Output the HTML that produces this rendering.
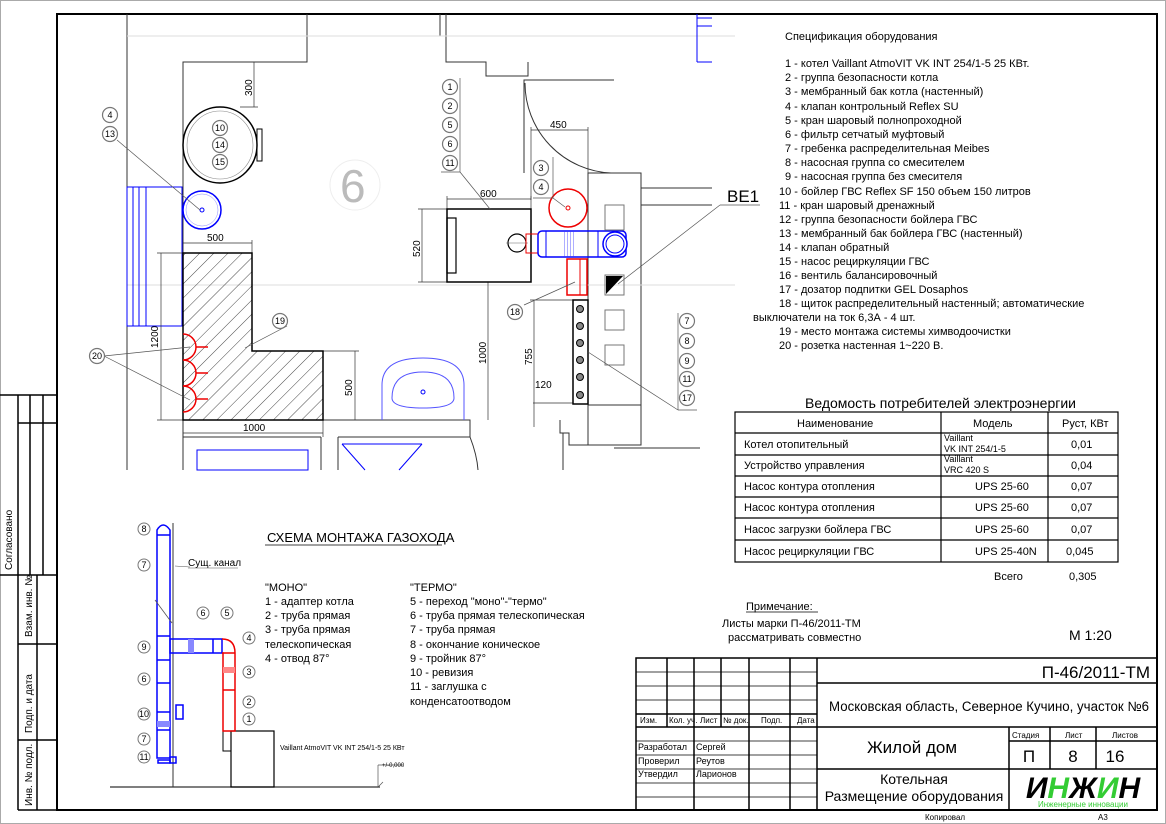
<!DOCTYPE html>
<html><head><meta charset="utf-8"><style>
html,body{margin:0;padding:0;background:#fff}
svg{display:block;font-family:"Liberation Sans",sans-serif}
</style></head><body>
<svg width="1166" height="824" viewBox="0 0 1166 824" xmlns="http://www.w3.org/2000/svg">
<defs>
<pattern id="h" width="10" height="10" patternUnits="userSpaceOnUse" patternTransform="rotate(45)">
<line x1="0" y1="0" x2="0" y2="10" stroke="#333" stroke-width="0.9"/></pattern>
<pattern id="hb" width="3" height="3" patternUnits="userSpaceOnUse"><line x1="0" y1="0" x2="0" y2="3" stroke="#33f" stroke-width="0.8"/></pattern>
</defs>
<rect x="0.5" y="0.5" width="1165" height="823" fill="none" stroke="#aaa"/>
<rect x="57" y="14" width="1100" height="796" fill="none" stroke="#000" stroke-width="2"/>
<g stroke="#000" stroke-width="1.5" fill="none">
<line x1="0" y1="395" x2="57" y2="395"/><line x1="18" y1="395" x2="18" y2="810"/>
<line x1="37" y1="575" x2="37" y2="810"/><line x1="30" y1="395" x2="30" y2="575"/><line x1="43" y1="395" x2="43" y2="575"/>
<line x1="18" y1="423" x2="57" y2="423"/><line x1="0" y1="575" x2="57" y2="575"/>
<line x1="18" y1="644" x2="57" y2="644"/><line x1="18" y1="740" x2="57" y2="740"/><line x1="18" y1="810" x2="57" y2="810"/>
</g>
<g font-size="10" fill="#000">
<text transform="translate(12,570) rotate(-90)">Согласовано</text>
<text transform="translate(32,637) rotate(-90)">Взам. инв. №</text>
<text transform="translate(32,733) rotate(-90)">Подп. и дата</text>
<text transform="translate(32,806) rotate(-90)">Инв. № подл.</text>
</g>

<g stroke="#333" stroke-width="1" fill="none">
<line x1="127" y1="14" x2="127" y2="470"/>
<polyline points="307,14 307,62 183,62 183,253"/>
<line x1="440" y1="14" x2="440" y2="36"/>
<polyline points="446,14 446,62 486,62 486,76 528,76 528,62 528,62"/>
<polyline points="524,173 524,80 614,80"/>
<polyline points="588,445 588,173 641,173 641,445"/>
<line x1="641" y1="188" x2="712" y2="188"/>
<line x1="641" y1="205" x2="712" y2="205"/>
<line x1="588" y1="405" x2="641" y2="405"/>
<polyline points="323,420 470,420 470,437"/>
<line x1="183" y1="420" x2="183" y2="470"/>
<line x1="183" y1="437" x2="321" y2="437"/><line x1="321" y1="437" x2="321" y2="470"/>
<line x1="338" y1="437" x2="470" y2="437"/><line x1="338" y1="437" x2="338" y2="470"/>
<polyline points="560,420 560,433 569,433 569,445 641,445 641,430"/>
<path d="M470,437 Q477,455 478,470"/>
<line x1="563" y1="433" x2="563" y2="470"/><line x1="614" y1="448" x2="700" y2="448"/>
<path d="M525,83 A90,90 0 0 0 611,173"/>
</g>
<g stroke="#ddd" stroke-width="1"><line x1="127" y1="36" x2="735" y2="36"/><line x1="127" y1="285" x2="735" y2="285"/></g>
<g stroke="#00f" fill="none" stroke-width="1">
<rect x="127" y="187" width="55" height="139"/><line x1="133" y1="187" x2="133" y2="326"/><line x1="139" y1="187" x2="139" y2="326"/><line x1="146" y1="187" x2="146" y2="326"/>
<line x1="697" y1="18" x2="712" y2="18"/><line x1="697" y1="26" x2="712" y2="26"/><line x1="697" y1="14" x2="697" y2="62"/><line x1="697" y1="62" x2="712" y2="62"/>
<rect x="197" y="450" width="111" height="20"/>
<line x1="342" y1="444" x2="422" y2="444"/><line x1="342" y1="444" x2="365" y2="470"/><line x1="422" y1="444" x2="399" y2="470"/>
</g>
<ellipse cx="220" cy="145" rx="37" ry="38" fill="none" stroke="#000" stroke-width="1.5"/>
<ellipse cx="220" cy="145" rx="33" ry="34" fill="none" stroke="#888" stroke-width="0.6"/>
<rect x="257" y="129" width="5" height="32" fill="none" stroke="#000"/>
<g stroke="#333" stroke-width="0.7" fill="none">
<line x1="254" y1="62" x2="254" y2="107"/><line x1="240" y1="107" x2="258" y2="107"/>
<line x1="183" y1="243" x2="252" y2="243"/><line x1="252" y1="240" x2="252" y2="253"/>
<line x1="161" y1="253" x2="161" y2="420"/><line x1="157" y1="253" x2="183" y2="253"/><line x1="157" y1="420" x2="183" y2="420"/>
<line x1="355" y1="351" x2="355" y2="420"/><line x1="323" y1="351" x2="359" y2="351"/>
<line x1="183" y1="433" x2="323" y2="433"/><line x1="323" y1="420" x2="323" y2="437"/>
<line x1="447" y1="199" x2="531" y2="199"/><line x1="447" y1="196" x2="447" y2="209"/><line x1="531" y1="196" x2="531" y2="209"/>
<line x1="422" y1="209" x2="422" y2="282"/><line x1="418" y1="209" x2="447" y2="209"/><line x1="418" y1="282" x2="447" y2="282"/>
<line x1="531" y1="130" x2="588" y2="130"/><line x1="531" y1="127" x2="531" y2="200"/><line x1="588" y1="127" x2="588" y2="173"/>
<line x1="488" y1="282" x2="488" y2="420"/>
<line x1="534" y1="300" x2="534" y2="427"/><line x1="530" y1="300" x2="575" y2="300"/><line x1="533" y1="403" x2="575" y2="403"/>
</g>
<g font-size="10" fill="#000">
<text transform="translate(252,96) rotate(-90)">300</text>
<text x="207" y="241">500</text>
<text transform="translate(158,348) rotate(-90)">1200</text>
<text transform="translate(352,396) rotate(-90)">500</text>
<text x="243" y="431">1000</text>
<text x="480" y="197">600</text>
<text transform="translate(420,257) rotate(-90)">520</text>
<text x="550" y="128">450</text>
<text transform="translate(486,364) rotate(-90)">1000</text>
<text transform="translate(532,365) rotate(-90)">755</text>
<text x="535" y="388">120</text>
</g>
<circle cx="355" cy="185" r="25" fill="none" stroke="#eee"/>
<text x="340" y="202" font-size="46" fill="#bbb">6</text>
<polygon points="183,253 252,253 252,351 323,351 323,420 183,420" fill="url(#h)" stroke="#000" stroke-width="1.5"/>
<g stroke="#e00" stroke-width="1.5" fill="none">
<path d="M183,334 A13,13 0 0 1 183,360"/><path d="M183,360 A13,13 0 0 1 183,386"/><path d="M183,386 A13,13 0 0 1 183,412"/>
<line x1="196" y1="347" x2="208" y2="347"/><line x1="196" y1="373" x2="208" y2="373"/><line x1="196" y1="399" x2="208" y2="399"/>
</g>
<circle cx="202" cy="210" r="19" fill="none" stroke="#00f" stroke-width="1.5"/><circle cx="202" cy="210" r="16" fill="none" stroke="#88f" stroke-width="0.5"/><circle cx="202" cy="210" r="2" fill="none" stroke="#00f"/>
<path d="M382,420 L382,385 Q382,358 423,358 Q464,358 464,385 L464,420" fill="none" stroke="#55f"/>
<path d="M392,398 Q392,372 423,372 Q454,372 454,398 Q454,408 423,408 Q392,408 392,398Z" fill="none" stroke="#55f"/>
<circle cx="423" cy="392" r="2" fill="none" stroke="#00f"/>
<rect x="447" y="209" width="84" height="73" fill="none" stroke="#000" stroke-width="1.5"/>
<rect x="447" y="218" width="9" height="55" fill="none" stroke="#000" stroke-width="1.2"/>
<circle cx="517" cy="243" r="9" fill="none" stroke="#000" stroke-width="1.2"/><line x1="506" y1="243" x2="528" y2="243" stroke="#666" stroke-width=".5"/>
<rect x="526" y="234" width="12" height="19" fill="none" stroke="#e00"/>
<circle cx="568" cy="208" r="19" fill="none" stroke="#e00" stroke-width="1.5"/><circle cx="568" cy="208" r="2" fill="none" stroke="#e00"/>
<rect x="538" y="231" width="88" height="26" rx="4" fill="none" stroke="#00f" stroke-width="1.5"/>
<rect x="563" y="231" width="13" height="26" fill="url(#hb)"/>
<line x1="546" y1="231" x2="546" y2="257" stroke="#00f"/><line x1="598" y1="231" x2="598" y2="257" stroke="#00f"/>
<circle cx="615" cy="244" r="12" fill="#fff" stroke="#00f" stroke-width="1.5"/><circle cx="615" cy="244" r="9" fill="none" stroke="#00f"/>
<rect x="567" y="259" width="20" height="36" fill="none" stroke="#e00" stroke-width="1.5"/><line x1="580" y1="259" x2="580" y2="295" stroke="#e00"/>
<g fill="none" stroke="#777"><rect x="605" y="205" width="19" height="25"/><rect x="605" y="275" width="19" height="20"/><rect x="605" y="310" width="19" height="20"/><rect x="605" y="345" width="19" height="20"/></g>
<polygon points="606,294 606,276 623,276" fill="#000"/>
<rect x="573" y="300" width="15" height="104" fill="#fff" stroke="#000" stroke-width="1.5"/>
<g fill="#888" stroke="#000"><circle cx="580" cy="309" r="3.5"/><circle cx="580" cy="326" r="3.5"/><circle cx="580" cy="343" r="3.5"/><circle cx="580" cy="360" r="3.5"/><circle cx="580" cy="377" r="3.5"/><circle cx="580" cy="395" r="3.5"/></g>
<text x="727" y="202" font-size="17" fill="#000">ВЕ1</text>
<g stroke="#555" stroke-width="0.7" fill="none">
<line x1="117" y1="140" x2="200" y2="210"/>
<line x1="460" y1="78" x2="460" y2="172"/><line x1="441" y1="172" x2="460" y2="172"/><line x1="460" y1="172" x2="490" y2="209"/>
<line x1="553" y1="157" x2="553" y2="198"/><line x1="533" y1="198" x2="553" y2="198"/><line x1="553" y1="198" x2="565" y2="207"/>
<line x1="720" y1="205" x2="618" y2="284"/><line x1="720" y1="205" x2="760" y2="205"/>
<line x1="524" y1="305" x2="575" y2="282"/>
<line x1="678" y1="313" x2="678" y2="410"/><line x1="678" y1="410" x2="697" y2="410"/><line x1="678" y1="410" x2="588" y2="352"/>
<line x1="287" y1="326" x2="245" y2="348"/>
<line x1="104" y1="356" x2="190" y2="347"/><line x1="104" y1="356" x2="190" y2="400"/>
</g>
<g font-size="9" text-anchor="middle" fill="#000">
<g fill="#fff" stroke="#777" stroke-width="1.2">
<circle cx="110" cy="115" r="7.5"/><circle cx="110" cy="134" r="7.5"/>
<circle cx="220" cy="128" r="7.5"/><circle cx="220" cy="145" r="7.5"/><circle cx="220" cy="162" r="7.5"/>
<circle cx="450" cy="87" r="7.5"/><circle cx="450" cy="106" r="7.5"/><circle cx="450" cy="125" r="7.5"/><circle cx="450" cy="144" r="7.5"/><circle cx="450" cy="163" r="7.5"/>
<circle cx="541" cy="168" r="7.5"/><circle cx="541" cy="187" r="7.5"/>
<circle cx="515" cy="312" r="7.5"/><circle cx="280" cy="321" r="7.5"/><circle cx="97" cy="356" r="7.5"/>
<circle cx="687" cy="321" r="7.5"/><circle cx="687" cy="341" r="7.5"/><circle cx="687" cy="361" r="7.5"/><circle cx="687" cy="379" r="7.5"/><circle cx="687" cy="398" r="7.5"/>
</g>
<text x="110" y="118">4</text><text x="110" y="137">13</text>
<text x="220" y="131">10</text><text x="220" y="148">14</text><text x="220" y="165">15</text>
<text x="450" y="90">1</text><text x="450" y="109">2</text><text x="450" y="128">5</text><text x="450" y="147">6</text><text x="450" y="166">11</text>
<text x="541" y="171">3</text><text x="541" y="190">4</text>
<text x="515" y="315">18</text><text x="280" y="324">19</text><text x="97" y="359">20</text>
<text x="687" y="324">7</text><text x="687" y="344">8</text><text x="687" y="364">9</text><text x="687" y="382">11</text><text x="687" y="401">17</text>
</g>

<g font-size="11" fill="#000">
<text x="785" y="40">Спецификация оборудования</text>
<text x="785" y="67">1 - котел Vaillant AtmoVIT VK INT 254/1-5  25 КВт.</text>
<text x="785" y="81">2 - группа безопасности котла</text>
<text x="785" y="95">3 - мембранный бак котла (настенный)</text>
<text x="785" y="110">4 - клапан контрольный Reflex SU</text>
<text x="785" y="124">5 - кран шаровый полнопроходной</text>
<text x="785" y="138">6 - фильтр сетчатый муфтовый</text>
<text x="785" y="152">7 - гребенка распределительная Meibes</text>
<text x="785" y="166">8 - насосная группа со смесителем</text>
<text x="785" y="180">9 - насосная группа без смесителя</text>
<text x="779" y="195">10 - бойлер ГВС Reflex SF 150 объем 150 литров</text>
<text x="779" y="209">11 - кран шаровый дренажный</text>
<text x="779" y="223">12 - группа безопасности бойлера ГВС</text>
<text x="779" y="237">13 - мембранный бак бойлера ГВС (настенный)</text>
<text x="779" y="251">14 - клапан обратный</text>
<text x="779" y="265">15 - насос рециркуляции ГВС</text>
<text x="779" y="279">16 - вентиль балансировочный</text>
<text x="779" y="293">17 - дозатор подпитки GEL Dosaphos</text>
<text x="779" y="307">18 - щиток распределительный настенный; автоматические</text>
<text x="753" y="321">выключатели на ток 6,3А - 4 шт.</text>
<text x="779" y="335">19 - место монтажа системы химводоочистки</text>
<text x="779" y="349">20 - розетка настенная 1~220 В.</text>
</g>
<text x="805" y="408" font-size="14">Ведомость потребителей электроэнергии</text>
<g stroke="#000" stroke-width="1.2" fill="none">
<rect x="735" y="412" width="383" height="150"/>
<line x1="941" y1="412" x2="941" y2="562"/><line x1="1048" y1="412" x2="1048" y2="562"/>
<line x1="735" y1="433" x2="1118" y2="433"/><line x1="735" y1="455" x2="1118" y2="455"/><line x1="735" y1="476" x2="1118" y2="476"/>
<line x1="735" y1="497" x2="1118" y2="497"/><line x1="735" y1="518" x2="1118" y2="518"/><line x1="735" y1="540" x2="1118" y2="540"/>
</g>
<g font-size="11" fill="#000">
<text x="797" y="427">Наименование</text><text x="973" y="427">Модель</text><text x="1062" y="427">Pуст, КВт</text>
<text x="744" y="448">Котел отопительный</text><text x="944" y="441" font-size="9">Vaillant</text><text x="944" y="452" font-size="9">VK INT 254/1-5</text><text x="1071" y="448">0,01</text>
<text x="744" y="469">Устройство управления</text><text x="944" y="462" font-size="9">Vaillant</text><text x="944" y="473" font-size="9">VRC 420 S</text><text x="1071" y="469">0,04</text>
<text x="744" y="490">Насос контура отопления</text><text x="975" y="490">UPS 25-60</text><text x="1071" y="490">0,07</text>
<text x="744" y="511">Насос контура отопления</text><text x="975" y="511">UPS 25-60</text><text x="1071" y="511">0,07</text>
<text x="744" y="533">Насос загрузки бойлера ГВС</text><text x="975" y="533">UPS 25-60</text><text x="1071" y="533">0,07</text>
<text x="744" y="555">Насос рециркуляции ГВС</text><text x="975" y="555">UPS 25-40N</text><text x="1066" y="555">0,045</text>
<text x="994" y="580">Всего</text><text x="1069" y="580">0,305</text>
<text x="746" y="610">Примечание:</text>
<text x="722" y="627">Листы марки П-46/2011-ТМ</text>
<text x="728" y="641">рассматривать совместно</text>
<text x="1069" y="640" font-size="14">М 1:20</text>
</g>
<line x1="746" y1="612" x2="818" y2="612" stroke="#000" stroke-width=".8"/>

<line x1="173" y1="523" x2="173" y2="787" stroke="#333"/>
<line x1="110" y1="787" x2="380" y2="787" stroke="#333" stroke-width="1.2"/>
<polyline points="378,765 378,787 383,782" fill="none" stroke="#555" stroke-width=".7"/><line x1="378" y1="765" x2="403" y2="765" stroke="#555" stroke-width=".7"/>
<rect x="231" y="731" width="43" height="56" fill="none" stroke="#000" stroke-width="1.2"/>
<rect x="223" y="731" width="8" height="20" fill="none" stroke="#000"/>
<g stroke="#00f" stroke-width="1.5" fill="none">
<path d="M157,758 L157,530 Q163,520 170,530 L170,758Z"/>
<line x1="157" y1="535" x2="170" y2="535"/><line x1="157" y1="636" x2="170" y2="636"/><line x1="157" y1="660" x2="170" y2="660"/><line x1="157" y1="683" x2="170" y2="683"/><line x1="157" y1="712" x2="170" y2="712"/><line x1="157" y1="730" x2="170" y2="730"/>
<rect x="170" y="639" width="52" height="14"/><line x1="193" y1="639" x2="193" y2="653"/><line x1="213" y1="639" x2="213" y2="653"/>
<rect x="170" y="757" width="6" height="6"/><rect x="176" y="705" width="7" height="14"/>
<rect x="158" y="760" width="12" height="3"/>
</g>
<rect x="157" y="721" width="13" height="6" fill="#88f"/><rect x="188" y="639" width="6" height="14" fill="#88f"/>
<g stroke="#e00" stroke-width="1.5" fill="none">
<path d="M222,639 Q235,639 235,653 L235,731 L223,731 L223,653 Q223,653 222,653"/>
<line x1="223" y1="653" x2="235" y2="653"/><line x1="223" y1="690" x2="235" y2="690"/>
</g>
<rect x="223" y="667" width="12" height="6" fill="#f88"/>
<line x1="155" y1="600" x2="172" y2="623" stroke="#555" stroke-width=".8"/>
<line x1="175" y1="566" x2="190" y2="567" stroke="#555" stroke-width=".6"/><line x1="188" y1="568" x2="238" y2="568" stroke="#555" stroke-width=".6"/>
<g font-size="9" text-anchor="middle" fill="#000">
<g fill="#fff" stroke="#777" stroke-width="1"><circle cx="144" cy="529" r="6"/><circle cx="144" cy="565" r="6"/><circle cx="144" cy="647" r="6"/><circle cx="144" cy="679" r="6"/><circle cx="144" cy="714" r="6"/><circle cx="144" cy="739" r="6"/><circle cx="144" cy="757" r="6"/><circle cx="203" cy="613" r="6"/><circle cx="227" cy="613" r="6"/><circle cx="249" cy="638" r="6"/><circle cx="249" cy="672" r="6"/><circle cx="249" cy="702" r="6"/><circle cx="249" cy="719" r="6"/></g>
<text x="144" y="532">8</text><text x="144" y="568">7</text><text x="144" y="650">9</text><text x="144" y="682">6</text><text x="144" y="717">10</text><text x="144" y="742">7</text><text x="144" y="760">11</text>
<text x="203" y="616">6</text><text x="227" y="616">5</text><text x="249" y="641">4</text><text x="249" y="675">3</text><text x="249" y="705">2</text><text x="249" y="722">1</text>
</g>
<g font-size="11" fill="#000">
<text x="188" y="566" font-size="10">Сущ. канал</text>
<text x="267" y="542" font-size="13">СХЕМА МОНТАЖА ГАЗОХОДА</text>
<text x="265" y="591">"МОНО"</text><text x="265" y="605">1 - адаптер котла</text><text x="265" y="619">2 - труба прямая</text><text x="265" y="633">3 - труба прямая</text><text x="265" y="648">телескопическая</text><text x="265" y="662">4 - отвод 87°</text>
<text x="410" y="591">"ТЕРМО"</text><text x="410" y="605">5 - переход "моно"-"термо"</text><text x="410" y="619">6 - труба прямая телескопическая</text><text x="410" y="633">7 - труба прямая</text><text x="410" y="648">8 - окончание коническое</text><text x="410" y="662">9 - тройник 87°</text><text x="410" y="676">10 - ревизия</text><text x="410" y="690">11 - заглушка с</text><text x="410" y="705">конденсатоотводом</text>
<text x="280" y="750" font-size="7">Vaillant AtmoVIT VK INT 254/1-5  25 КВт</text>
<text x="382" y="767" font-size="6">+/-0,000</text>
</g>
<line x1="265" y1="545" x2="442" y2="545" stroke="#000" stroke-width=".8"/>

<g stroke="#000" stroke-width="1.5" fill="none">
<rect x="636" y="658" width="521" height="152"/>
<line x1="817" y1="658" x2="817" y2="810"/>
<line x1="667" y1="658" x2="667" y2="727"/><line x1="694" y1="658" x2="694" y2="810"/><line x1="721" y1="658" x2="721" y2="727"/><line x1="749" y1="658" x2="749" y2="810"/><line x1="790" y1="658" x2="790" y2="810"/>
<line x1="817" y1="683" x2="1157" y2="683"/><line x1="636" y1="727" x2="1157" y2="727"/><line x1="817" y1="769" x2="1157" y2="769"/>
<line x1="1009" y1="727" x2="1009" y2="810"/><line x1="1050" y1="727" x2="1050" y2="769"/><line x1="1096" y1="727" x2="1096" y2="769"/><line x1="1009" y1="741" x2="1157" y2="741"/>
<line x1="636" y1="714" x2="817" y2="714"/>
</g>
<g stroke="#000" stroke-width=".8">
<line x1="636" y1="672" x2="817" y2="672"/><line x1="636" y1="686" x2="817" y2="686"/><line x1="636" y1="700" x2="817" y2="700"/>
<line x1="636" y1="741" x2="817" y2="741"/><line x1="636" y1="755" x2="817" y2="755"/><line x1="636" y1="769" x2="817" y2="769"/><line x1="636" y1="783" x2="817" y2="783"/><line x1="636" y1="797" x2="817" y2="797"/>
</g>
<g font-size="9" fill="#000">
<text x="640" y="723" font-size="8">Изм.</text><text x="669" y="723" font-size="8">Кол. уч.</text><text x="700" y="723" font-size="8">Лист</text><text x="723" y="723" font-size="8">№ док.</text><text x="761" y="723" font-size="8">Подп.</text><text x="797" y="723" font-size="8">Дата</text>
<text x="638" y="750">Разработал</text><text x="696" y="750">Сергей</text>
<text x="638" y="764">Проверил</text><text x="696" y="764">Реутов</text>
<text x="638" y="777">Утвердил</text><text x="696" y="777">Ларионов</text>
<text x="1012" y="738" font-size="8">Стадия</text><text x="1065" y="738" font-size="8">Лист</text><text x="1112" y="738" font-size="8">Листов</text>
</g>
<g fill="#000">
<text x="1150" y="678" font-size="17" text-anchor="end">П-46/2011-ТМ</text>
<text x="829" y="711" font-size="13.5" textLength="320" lengthAdjust="spacingAndGlyphs">Московская область, Северное Кучино, участок №6</text>
<text x="912" y="753" font-size="17" text-anchor="middle">Жилой дом</text>
<text x="1029" y="762" font-size="17" text-anchor="middle">П</text><text x="1073" y="762" font-size="17" text-anchor="middle">8</text><text x="1115" y="762" font-size="17" text-anchor="middle">16</text>
<text x="914" y="784" font-size="14" text-anchor="middle">Котельная</text>
<text x="914" y="801" font-size="14" text-anchor="middle">Размещение оборудования</text>
<text x="925" y="820" font-size="8">Копировал</text><text x="1098" y="820" font-size="8">А3</text>
</g>
<rect x="1033" y="770" width="100" height="38" fill="#fff"/>
<text x="1083" y="798" font-size="30" font-weight="bold" text-anchor="middle" fill="#000" font-style="italic">И<tspan fill="#3c3">Н</tspan>Ж<tspan fill="#3c3">И</tspan>Н</text>
<rect x="1033" y="798" width="100" height="10" fill="#fff"/>
<text x="1083" y="807" font-size="8" text-anchor="middle" fill="#3c3">Инженерные инновации</text>
</svg>
</body></html>
